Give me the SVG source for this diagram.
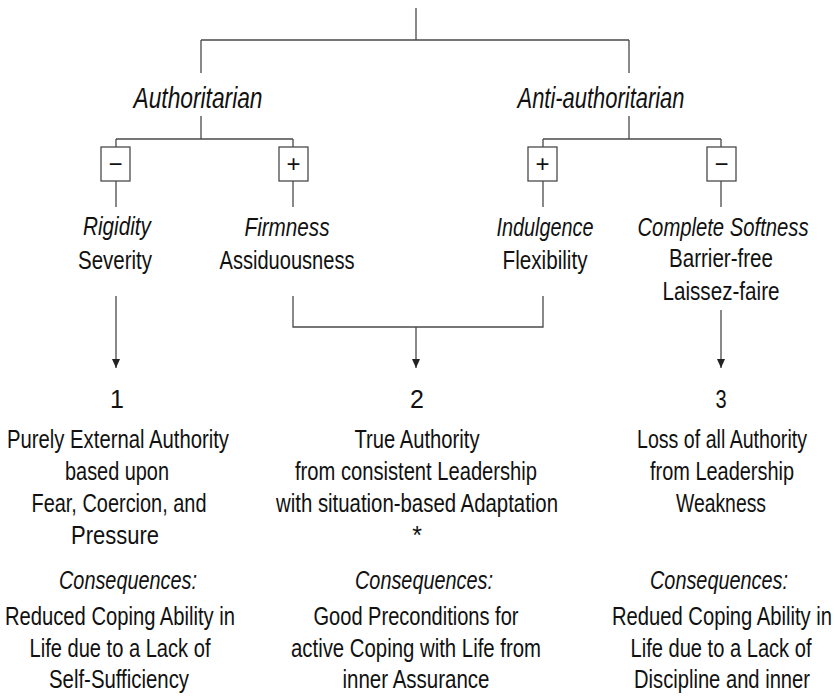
<svg xmlns="http://www.w3.org/2000/svg" width="835" height="696" viewBox="0 0 835 696">
<defs>
<style>
.ln{stroke:#4a4a4a;stroke-width:1.3;fill:none}
.bx{stroke:#4a4a4a;stroke-width:1.3;fill:#fff}
text{font-family:"Liberation Sans",Arial,sans-serif;fill:#111;text-anchor:middle}
.t{font-size:25px}
.i{font-size:25px;font-style:italic}
.h{font-size:30px;font-style:italic}
.s{font-size:24px}
</style>
<marker id="ah" markerUnits="userSpaceOnUse" markerWidth="10" markerHeight="10" viewBox="0 0 10 10" refX="9" refY="5" orient="auto">
<path d="M0,1 L9,5 L0,9 Z" fill="#222"/>
</marker>
</defs>
<rect width="835" height="696" fill="#fff"/>
<g id="connectors">
<path class="ln" d="M416,8 V40 M201,40 H629 M201,40 V73 M629,40 V73"/>
<path class="ln" d="M201,116 V139 M116,139 H293 M116,139 V147 M293,139 V147"/>
<path class="ln" d="M629,116 V139 M543,139 H721 M543,139 V147 M721,139 V147"/>
<path class="ln" d="M116,181 V207 M293,181 V207 M543,181 V207 M721,181 V207"/>
<path class="ln" d="M293,296 V327 H543 V296"/>
<line class="ln" x1="116" y1="296" x2="116" y2="368" marker-end="url(#ah)"/>
<line class="ln" x1="416" y1="327" x2="416" y2="368" marker-end="url(#ah)"/>
<line class="ln" x1="721" y1="310" x2="721" y2="368" marker-end="url(#ah)"/>
</g>
<g id="authoritarian"><text class="h" x="198" y="108" textLength="129" lengthAdjust="spacingAndGlyphs">Authoritarian</text></g>
<g id="anti-authoritarian"><text class="h" x="601" y="108" textLength="167" lengthAdjust="spacingAndGlyphs">Anti-authoritarian</text></g>
<g id="box-minus-left"><rect class="bx" x="101" y="147" width="29" height="34"/><text class="s" x="115.5" y="172">−</text></g>
<g id="box-plus-left"><rect class="bx" x="279" y="147" width="29" height="34"/><text class="s" x="293.5" y="172">+</text></g>
<g id="box-plus-right"><rect class="bx" x="528" y="147" width="29" height="34"/><text class="s" x="542.5" y="172">+</text></g>
<g id="box-minus-right"><rect class="bx" x="707" y="147" width="29" height="34"/><text class="s" x="721.5" y="172">−</text></g>
<g id="rigidity">
<text class="i" x="117" y="235" textLength="68" lengthAdjust="spacingAndGlyphs">Rigidity</text>
<text class="t" x="115" y="269" textLength="74" lengthAdjust="spacingAndGlyphs">Severity</text>
</g>
<g id="firmness">
<text class="i" x="287" y="236" textLength="85" lengthAdjust="spacingAndGlyphs">Firmness</text>
<text class="t" x="287" y="269" textLength="135" lengthAdjust="spacingAndGlyphs">Assiduousness</text>
</g>
<g id="indulgence">
<text class="i" x="545" y="236" textLength="97" lengthAdjust="spacingAndGlyphs">Indulgence</text>
<text class="t" x="545" y="269" textLength="85" lengthAdjust="spacingAndGlyphs">Flexibility</text>
</g>
<g id="complete-softness" transform="translate(722,0) scale(0.8,1)">
<text class="i" x="1.25" y="236" textLength="213.75" lengthAdjust="spacingAndGlyphs">Complete Softness</text>
<text class="t" x="-1.25" y="267" textLength="130" lengthAdjust="spacingAndGlyphs">Barrier-free</text>
<text class="t" x="-1.25" y="300" textLength="146.25" lengthAdjust="spacingAndGlyphs">Laissez-faire</text>
</g>
<g id="outcome-1">
<text class="t" x="117" y="408">1</text>
<text class="t" x="118" y="448" textLength="222" lengthAdjust="spacingAndGlyphs">Purely External Authority</text>
<text class="t" x="117" y="480" textLength="104" lengthAdjust="spacingAndGlyphs">based upon</text>
<text class="t" x="119" y="512" textLength="175" lengthAdjust="spacingAndGlyphs">Fear, Coercion, and</text>
<text class="t" x="115" y="544" textLength="88" lengthAdjust="spacingAndGlyphs">Pressure</text>
<text class="i" x="128" y="589" textLength="138" lengthAdjust="spacingAndGlyphs">Consequences:</text>
<text class="t" x="120" y="625" textLength="230" lengthAdjust="spacingAndGlyphs">Reduced Coping Ability in</text>
<text class="t" x="120" y="657" textLength="181" lengthAdjust="spacingAndGlyphs">Life due to a Lack of</text>
<text class="t" x="119" y="688" textLength="140" lengthAdjust="spacingAndGlyphs">Self-Sufficiency</text>
</g>
<g id="outcome-2">
<text class="t" x="417" y="408">2</text>
<text class="t" x="417" y="448" textLength="125" lengthAdjust="spacingAndGlyphs">True Authority</text>
<text class="t" x="416" y="480" textLength="242" lengthAdjust="spacingAndGlyphs">from consistent Leadership</text>
<text class="t" x="417" y="512" textLength="282" lengthAdjust="spacingAndGlyphs">with situation-based Adaptation</text>
<text class="t" x="417" y="544">*</text>
<text class="i" x="424" y="589" textLength="138" lengthAdjust="spacingAndGlyphs">Consequences:</text>
<text class="t" x="416" y="625" textLength="205" lengthAdjust="spacingAndGlyphs">Good Preconditions for</text>
<text class="t" x="416" y="657" textLength="250" lengthAdjust="spacingAndGlyphs">active Coping with Life from</text>
<text class="t" x="416" y="688" textLength="147" lengthAdjust="spacingAndGlyphs">inner Assurance</text>
</g>
<g id="outcome-3" transform="translate(722,0) scale(0.8,1)">
<text class="t" x="-1.25" y="408">3</text>
<text class="t" x="0" y="448" textLength="212.5" lengthAdjust="spacingAndGlyphs">Loss of all Authority</text>
<text class="t" x="0" y="480" textLength="180" lengthAdjust="spacingAndGlyphs">from Leadership</text>
<text class="t" x="-1.25" y="512" textLength="112.5" lengthAdjust="spacingAndGlyphs">Weakness</text>
<text class="i" x="-3.75" y="589" textLength="172.5" lengthAdjust="spacingAndGlyphs">Consequences:</text>
<text class="t" x="0" y="625" textLength="275" lengthAdjust="spacingAndGlyphs">Redued Coping Ability in</text>
<text class="t" x="-1.25" y="657" textLength="226.25" lengthAdjust="spacingAndGlyphs">Life due to a Lack of</text>
<text class="t" x="0" y="688" textLength="220" lengthAdjust="spacingAndGlyphs">Discipline and inner</text>
</g>
</svg>
